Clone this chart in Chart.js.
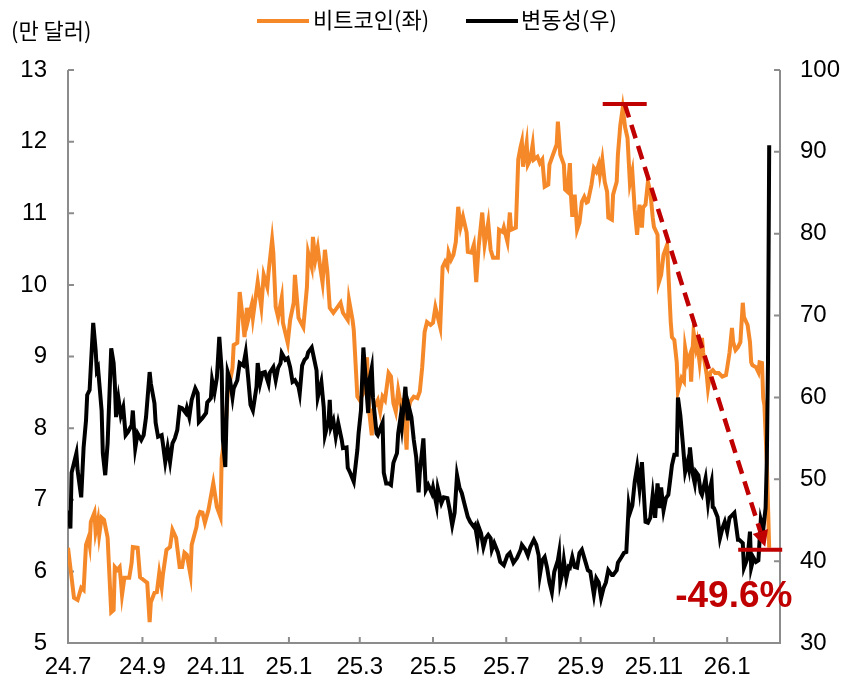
<!DOCTYPE html>
<html>
<head>
<meta charset="utf-8">
<script src="https://cdn.jsdelivr.net/npm/chart.js@4.4.1/dist/chart.umd.min.js"></script>
<style>
  html, body { margin: 0; padding: 0; background: #fff; }
</style>
</head>
<body>
<canvas id="btc" width="844" height="683"></canvas>
<script>
// x축: 2024-07-01 기준 경과일
const monthTicks = [0, 62, 123, 184, 243, 304, 365, 427, 488, 549];
const monthLabels = ['24.7', '24.9', '24.11', '25.1', '25.3', '25.5', '25.7', '25.9', '25.11', '26.1'];

// 비트코인 가격 (만 달러)
const btcDays = [0,5,8,11,13,15,17,18,19,22,23,25,26,28,30,33,34,36,38,39,41,43,44,45,47,51,53,54,58,60,63,66,68,69,72,74,76,78,79,82,85,87,90,93,95,97,99,102,103,107,108,110,112,114,117,121,124,127,128,131,133,137,138,141,143,145,147,149,150,153,154,158,161,163,166,167,170,171,173,175,178,179,183,185,188,189,192,196,199,200,203,204,206,208,210,212,214,216,218,221,224,227,229,233,234,237,238,241,243,246,249,251,253,254,258,260,262,264,267,269,271,273,275,278,279,282,283,285,288,291,293,295,297,299,302,304,306,308,310,312,314,316,317,319,321,323,325,327,329,332,333,336,338,340,342,345,347,350,352,354,358,359,362,363,366,368,369,373,375,377,378,379,382,383,385,387,388,391,393,395,397,400,401,404,407,408,410,413,414,416,418,419,420,422,424,426,428,430,432,433,436,438,440,442,443,445,447,449,450,453,454,457,458,460,462,464,466,468,470,472,474,476,478,479,481,483,485,487,488,491,492,494,496,499,500,502,503,505,507,508,511,513,514,516,518,519,520,521,523,524,526,528,529,532,533,535,537,539,542,545,548,549,551,553,554,556,558,560,562,563,566,568,569,570,573,575,576,578,579,580,582,584];
const btcValues = [6.33,5.63,5.60,5.77,5.74,6.37,6.47,6.37,6.69,6.82,6.55,6.72,6.51,6.75,6.72,6.47,6.12,5.43,5.46,6.06,6.02,6.06,5.88,5.67,5.91,5.91,6.12,6.34,6.33,5.92,5.88,5.84,5.29,5.57,5.70,5.71,5.98,5.78,5.95,6.30,6.34,6.58,6.47,6.06,6.06,6.26,6.23,5.95,6.37,6.62,6.75,6.83,6.82,6.68,6.86,7.23,6.90,6.76,7.58,7.93,8.49,8.84,9.16,9.19,9.90,9.61,9.27,9.68,9.51,9.72,9.54,10.04,9.69,10.14,9.97,10.17,10.63,10.45,9.69,9.55,9.82,9.47,9.19,9.51,9.75,10.14,9.54,9.41,9.97,10.45,10.25,10.67,10.35,10.52,10.25,10.03,10.49,10.18,9.68,9.61,9.68,9.75,9.61,9.51,9.79,9.51,9.37,8.44,8.39,8.49,8.99,8.21,7.90,8.25,8.39,8.23,8.44,8.39,8.77,8.72,8.35,8.23,8.53,8.25,8.42,7.70,8.21,8.37,8.44,8.42,8.51,8.85,9.34,9.48,9.44,9.47,9.69,9.55,9.41,10.25,10.32,10.25,10.45,10.35,10.42,10.60,11.09,10.81,10.95,10.73,10.46,10.45,10.56,10.04,10.53,11.01,10.56,10.87,10.49,10.38,10.38,10.77,10.74,10.80,10.60,11.01,10.77,10.80,11.75,11.93,12.00,11.65,11.98,11.68,11.75,11.96,11.75,11.79,11.70,11.75,11.37,11.40,11.68,11.82,11.96,12.28,11.82,11.68,11.33,11.30,11.70,11.22,10.95,11.26,10.77,10.87,11.16,11.23,11.15,11.16,11.40,11.63,11.58,11.68,11.54,11.75,11.44,11.30,10.94,10.91,11.26,11.44,11.82,12.23,12.47,12.20,12.05,11.42,11.58,11.05,10.70,11.12,10.80,11.08,11.12,11.44,11.30,10.94,10.81,10.70,10.03,10.14,10.42,10.56,10.18,9.48,9.27,9.23,8.92,8.51,8.70,8.65,9.12,8.92,9.02,8.65,9.02,9.34,9.12,9.20,8.92,9.26,9.06,8.74,8.56,8.78,8.81,8.77,8.77,8.72,8.74,8.84,9.06,9.40,9.20,9.09,9.13,9.20,9.75,9.55,9.44,9.20,8.92,8.88,8.85,8.78,8.92,8.91,8.42,8.32,7.53,6.33];

// 변동성
const volDays = [0,2,3,7,8,11,13,15,16,18,19,21,23,24,25,28,29,31,33,36,38,39,40,42,44,46,48,50,53,54,56,58,61,63,65,68,69,72,73,75,78,79,81,83,85,87,89,91,93,95,98,99,101,103,106,108,109,112,115,116,119,120,122,124,126,128,129,131,133,135,137,138,141,143,146,148,150,152,154,157,158,160,162,164,167,168,171,173,175,177,178,181,183,185,187,189,192,193,195,197,199,200,203,204,207,208,211,213,214,217,218,219,221,223,225,228,229,232,233,235,238,241,242,244,246,248,250,251,253,254,257,258,262,263,265,267,269,271,274,275,277,278,281,283,284,286,288,290,292,293,296,298,300,303,304,307,308,311,313,316,318,320,322,324,326,328,330,333,335,338,339,341,342,344,346,348,350,352,353,355,358,360,363,366,368,371,374,377,378,381,383,385,388,390,392,393,395,397,399,401,403,405,408,409,410,412,413,415,417,418,420,422,424,426,428,430,433,435,438,440,442,444,446,448,450,453,454,457,458,461,463,465,467,468,470,472,474,476,478,479,481,483,485,487,489,491,493,494,496,498,500,502,503,505,507,508,510,512,514,516,517,518,520,522,523,525,527,528,531,533,534,536,537,538,541,543,545,547,549,551,553,555,558,559,562,563,566,568,569,571,573,575,577,578,579,581,582,583,584];
const volValues = [46.2,44.0,50.8,53.2,51.1,47.8,53.9,57.2,60.3,60.9,63.7,69.1,65.8,63.3,63.6,58.4,53.2,50.5,54.4,66.0,64.2,61.7,57.6,59.9,57.8,58.8,55.4,55.8,56.6,58.4,53.8,55.6,54.8,55.4,57.6,63.1,61.7,59.3,56.9,55.2,55.4,54.4,52.1,53.9,52.1,54.4,55.0,56.0,58.8,58.7,58.1,58.7,57.6,59.7,61.1,60.5,57.0,57.5,58.1,59.4,59.9,62.1,60.6,62.4,67.4,63.3,54.8,51.5,63.1,62.1,60.0,61.1,62.1,64.2,63.9,65.5,62.5,59.1,58.4,61.3,64.2,61.7,63.0,63.1,61.7,63.0,63.7,62.1,63.6,64.2,65.4,64.6,64.8,63.7,61.9,62.1,61.3,60.5,63.9,64.6,64.9,65.5,66.1,65.4,63.3,60.0,61.9,58.8,55.4,57.2,59.7,56.4,57.2,55.2,56.9,54.8,53.8,53.9,51.4,50.8,49.7,53.6,55.6,58.4,66.1,62.1,58.1,62.1,63.6,60.0,55.6,55.4,56.9,50.8,49.5,49.5,49.3,52.0,53.2,55.6,57.6,56.4,61.3,57.2,58.8,57.6,54.8,52.7,48.4,50.8,55.0,48.7,49.3,48.3,49.0,46.8,48.9,47.1,47.8,47.7,46.2,44.4,45.9,50.5,49.0,48.3,47.1,45.4,44.8,44.2,44.4,42.6,44.2,43.4,41.7,42.8,43.2,42.8,41.4,42.2,41.1,39.9,39.5,40.7,41.0,39.8,40.4,41.4,42.0,41.4,40.7,41.7,42.6,42.0,40.7,38.3,40.1,40.5,39.2,37.4,36.2,38.7,40.1,41.0,37.4,38.7,40.1,37.9,39.3,39.2,40.5,39.3,39.2,41.0,41.4,40.4,38.9,38.7,35.9,37.9,37.4,35.5,36.7,37.4,38.9,38.3,38.3,38.9,39.8,40.5,41.0,41.1,46.8,45.9,46.8,49.7,51.5,48.9,52.1,49.7,44.8,44.7,45.3,48.1,45.3,49.5,46.5,49.0,46.2,47.7,48.1,50.5,51.7,53.0,53.0,60.0,57.8,54.5,50.9,52.1,51.4,53.9,50.9,49.5,50.9,50.5,48.4,48.1,50.1,47.2,48.4,49.7,46.6,46.5,45.4,42.8,44.0,44.8,43.6,45.3,45.6,45.9,42.6,42.6,42.2,39.2,40.4,43.6,39.2,40.4,39.9,40.1,45.0,44.4,43.8,46.5,52.1,64.3,90.8];

const dropLabel = '-49.6%';
const seriesNames = ['비트코인(좌)', '변동성(우)'];
const orange = '#F5892A';
const red = '#C00000';

function pts(days, vals) {
  return days.map((d, i) => ({ x: d, y: vals[i] }));
}

const decor = {
  id: 'decor',
  beforeDatasetsDraw(chart) {
    const { ctx, chartArea: a, scales } = chart;
    ctx.save();
    ctx.strokeStyle = '#8c8c8c';
    ctx.lineWidth = 2;
    ctx.beginPath();
    ctx.moveTo(a.left, a.top);
    ctx.lineTo(a.left, a.bottom);
    ctx.lineTo(a.right, a.bottom);
    ctx.lineTo(a.right, a.top);
    // 안쪽 눈금
    scales.yL.ticks.forEach(t => {
      const y = scales.yL.getPixelForValue(t.value);
      ctx.moveTo(a.left, y); ctx.lineTo(a.left + 6, y);
    });
    scales.yR.ticks.forEach(t => {
      const y = scales.yR.getPixelForValue(t.value);
      ctx.moveTo(a.right, y); ctx.lineTo(a.right - 6, y);
    });
    monthTicks.forEach(d => {
      const x = scales.x.getPixelForValue(d);
      ctx.moveTo(x, a.bottom); ctx.lineTo(x, a.bottom - 6);
    });
    ctx.stroke();
    ctx.restore();
  },
  afterDraw(chart) {
    const { ctx, scales } = chart;
    const x = scales.x, yL = scales.yL;
    ctx.save();
    // 범례, 단위
    ctx.textBaseline = 'middle';
    ctx.fillStyle = '#000';
    ctx.font = '22px "Noto Sans CJK KR"';
    ctx.fillText('(만 달러)', 11, 31);
    ctx.lineWidth = 4;
    ctx.strokeStyle = orange;
    ctx.beginPath(); ctx.moveTo(257, 21); ctx.lineTo(309, 21); ctx.stroke();
    ctx.fillText(seriesNames[0], 313, 20);
    ctx.strokeStyle = '#000';
    ctx.beginPath(); ctx.moveTo(466, 21); ctx.lineTo(518, 21); ctx.stroke();
    ctx.fillText(seriesNames[1], 521, 20);

    // 고점 대비 하락 표시
    let pi = 0;
    btcValues.forEach((v, i) => { if (v > btcValues[pi]) pi = i; });
    const li = btcValues.length - 1;
    const px = x.getPixelForValue(btcDays[pi]);
    const py = yL.getPixelForValue(btcValues[pi]) - 4;
    const tx = x.getPixelForValue(btcDays[li]);
    const ty = yL.getPixelForValue(btcValues[li]) + 2;

    ctx.strokeStyle = red;
    ctx.fillStyle = red;
    ctx.lineWidth = 4;
    ctx.beginPath();
    ctx.moveTo(px - 20, py); ctx.lineTo(px + 24, py);
    ctx.moveTo(tx - 31, ty); ctx.lineTo(tx + 13, ty);
    ctx.stroke();

    const sx = px + 2, sy = py;
    const ex = tx - 4, ey = ty - 3;
    const ang = Math.atan2(ey - sy, ex - sx);
    const headLen = 16, headW = 8;
    const bx = ex - headLen * Math.cos(ang), by = ey - headLen * Math.sin(ang);
    ctx.setLineDash([14, 8]);
    ctx.lineWidth = 4.5;
    ctx.beginPath(); ctx.moveTo(sx, sy); ctx.lineTo(bx, by); ctx.stroke();
    ctx.setLineDash([]);
    ctx.beginPath();
    ctx.moveTo(ex, ey);
    ctx.lineTo(bx + headW * Math.sin(ang), by - headW * Math.cos(ang));
    ctx.lineTo(bx - headW * Math.sin(ang), by + headW * Math.cos(ang));
    ctx.closePath();
    ctx.fill();

    ctx.font = 'bold 37px "Liberation Sans", Arial, sans-serif';
    ctx.textBaseline = 'alphabetic';
    ctx.textAlign = 'left';
    ctx.fillText(dropLabel, tx - 94, ty + 57);
    ctx.restore();
  }
};

const tickFont = { family: '"Liberation Sans", Arial, sans-serif', size: 24 };

new Chart(document.getElementById('btc'), {
  type: 'line',
  data: {
    datasets: [
      {
        label: seriesNames[1],
        data: pts(volDays, volValues),
        yAxisID: 'yR',
        borderColor: '#000',
        borderWidth: 4,
        pointRadius: 0,
        tension: 0
      },
      {
        label: seriesNames[0],
        data: pts(btcDays, btcValues),
        yAxisID: 'yL',
        borderColor: orange,
        borderWidth: 4,
        pointRadius: 0,
        tension: 0
      }
    ]
  },
  options: {
    responsive: false,
    animation: false,
    layout: { padding: { top: 70, left: 0, right: 0, bottom: 0 } },
    plugins: {
      legend: { display: false },
      tooltip: { enabled: false }
    },
    scales: {
      x: {
        type: 'linear',
        min: 0,
        max: 593,
        afterBuildTicks: s => { s.ticks = monthTicks.map(v => ({ value: v })); },
        afterFit: s => { s.height = 40; },
        grid: { display: false, drawTicks: false },
        border: { display: false },
        ticks: {
          autoSkip: false,
          maxRotation: 0,
          padding: 10,
          color: '#000',
          font: tickFont,
          callback: v => monthLabels[monthTicks.indexOf(v)]
        }
      },
      yL: {
        position: 'left',
        min: 5,
        max: 13,
        afterFit: s => { s.width = 68; },
        grid: { display: false, drawTicks: false },
        border: { display: false },
        ticks: { stepSize: 1, padding: 21, color: '#000', font: tickFont }
      },
      yR: {
        position: 'right',
        min: 30,
        max: 100,
        afterFit: s => { s.width = 64; },
        grid: { display: false, drawTicks: false },
        border: { display: false },
        ticks: { stepSize: 10, padding: 20, color: '#000', font: tickFont }
      }
    }
  },
  plugins: [decor]
});
</script>
</body>
</html>
